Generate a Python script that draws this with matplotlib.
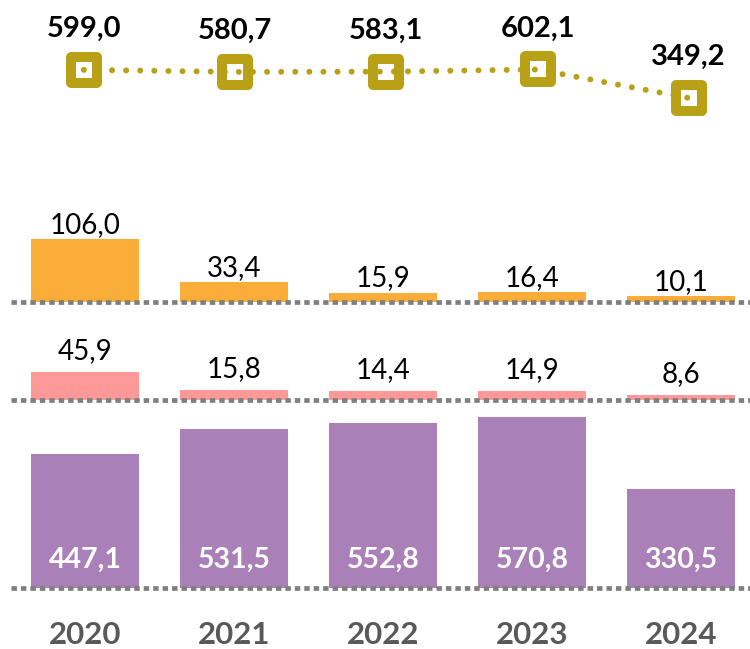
import matplotlib
matplotlib.use("Agg")
import matplotlib.pyplot as plt
from matplotlib.markers import MarkerStyle

plt.rcParams['font.family'] = ['Lato', 'DejaVu Sans']

years = ["2020", "2021", "2022", "2023", "2024"]
total = [599.0, 580.7, 583.1, 602.1, 349.2]
orange_vals = [106.0, 33.4, 15.9, 16.4, 10.1]
pink_vals = [45.9, 15.8, 14.4, 14.9, 8.6]
purple_vals = [447.1, 531.5, 552.8, 570.8, 330.5]

OLIVE = "#B8A117"
ORANGE = "#FBAD3A"
PINK = "#FE9999"
PURPLE = "#A981B8"
GRAY = "#7F7F7F"
YEAR_GRAY = "#595959"

W, H = 750, 649
fig = plt.figure(figsize=(W / 100, H / 100), dpi=100)


def px_axes(left, top, right, bottom):
    """Create axes from pixel edges (origin at top-left)."""
    ax = fig.add_axes([left / W, 1 - bottom / H, (right - left) / W, (bottom - top) / H])
    ax.set_axis_off()
    return ax


def fmt(v):
    return f"{v:.1f}".replace(".", ",")


x = list(range(len(years)))
bar_w = 0.725
dot_style = dict(color=GRAY, lw=3.4, linestyle=(0, (1.15, 0.85)),
                 dash_capstyle="butt", zorder=5, clip_on=False)

# Bar panels: (values, color, baseline px, px per unit, top px)
panels = [
    (orange_vals, ORANGE, 302, 0.59, 190),
    (pink_vals, PINK, 400, 0.61, 302),
    (purple_vals, PURPLE, 588, 0.299, 400),
]
bar_axes = []
for vals, col, base, scale, top in panels:
    ax = px_axes(10.85, top, 755.5, base)
    ax.set_xlim(-0.5, 4.5)
    ax.set_ylim(0, (base - top) / scale)
    ax.bar(x, vals, width=bar_w, color=col, zorder=2)
    ax.axhline(0, xmin=0.0, xmax=1.0, **dot_style)
    bar_axes.append(ax)

ax_o, ax_p, ax_v = bar_axes
for xi, v in zip(x, orange_vals):
    ax_o.annotate(fmt(v), (xi, v), xytext=(0, 4.5), textcoords="offset points",
                  ha="center", va="baseline", fontsize=20, color="black")
for xi, v in zip(x, pink_vals):
    ax_p.annotate(fmt(v), (xi, v), xytext=(0, 9.5), textcoords="offset points",
                  ha="center", va="baseline", fontsize=20, color="black")
for xi, v in zip(x, purple_vals):
    ax_v.annotate(fmt(v), (xi, 0), xytext=(0, 14.2), textcoords="offset points",
                  ha="center", va="baseline", fontsize=20.5, fontweight="bold",
                  color="white", zorder=6)
for xi, yr in zip(x, years):
    ax_v.annotate(yr, (xi, 0), xytext=(0, -40.5), textcoords="offset points",
                  ha="center", va="baseline", fontsize=22.5, fontweight="bold",
                  color=YEAR_GRAY, annotation_clip=False)

# Total line panel
ax_l = px_axes(8.2, 0, 764.4, 130)
ax_l.set_xlim(-0.5, 4.5)
ax_l.set_ylim(349.2 - (130 - 98) / 0.1127, 602.1 + 69.5 / 0.1127)
marker = MarkerStyle("s", joinstyle="round")
ax_l.plot(x, total, linestyle="none", marker=marker, markersize=18.7,
          markerfacecolor="white", markeredgecolor=OLIVE, markeredgewidth=7.2,
          zorder=2, clip_on=False)
ax_l.plot(x, total, color=OLIVE, lw=4.3, linestyle=(0, (0.01, 2.35)),
          dash_capstyle="round", zorder=3, clip_on=False)
for xi, v in zip(x, total):
    ax_l.annotate(fmt(v), (xi, v), xytext=(0, 23.8), textcoords="offset points",
                  ha="center", va="baseline", fontsize=21, fontweight="bold",
                  color="black")

fig.savefig("out.png", dpi=100)
